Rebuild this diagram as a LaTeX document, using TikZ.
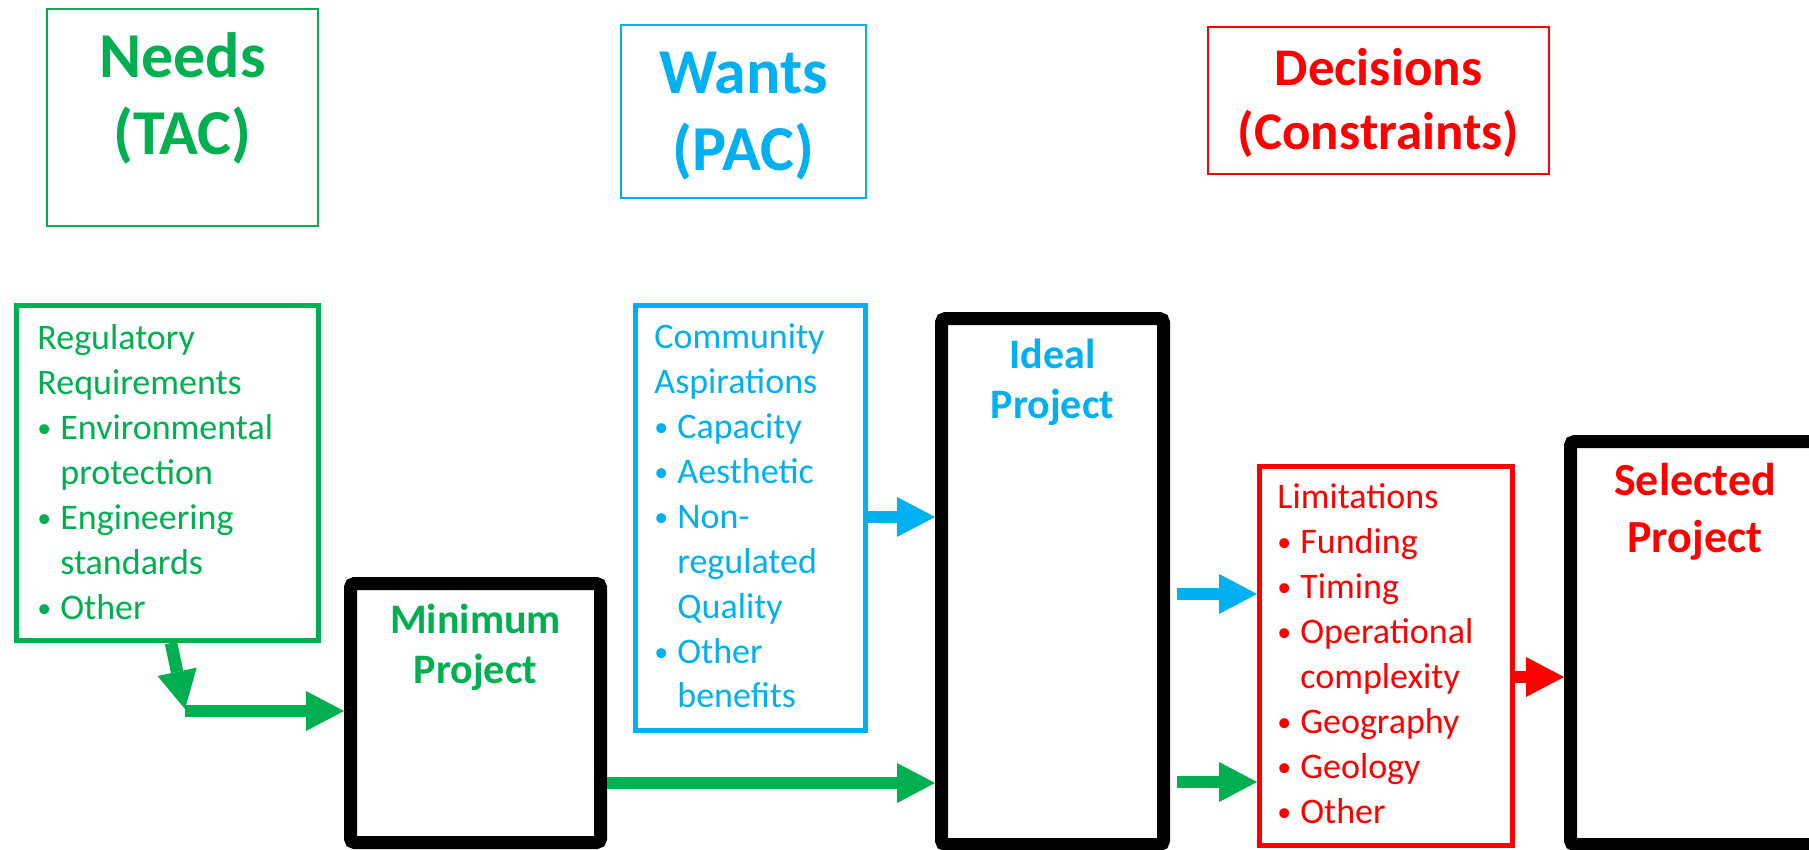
\documentclass[tikz,border=0pt]{standalone}
\usepackage{fontspec}
\setmainfont{Carlito}
\usetikzlibrary{arrows.meta}
\definecolor{cgreen}{HTML}{00B050}
\definecolor{cblue}{HTML}{00B0F0}
\definecolor{cred}{HTML}{FF0000}
\newcommand\bul{\makebox[11.5pt][l]{\raisebox{0.6pt}{\fontsize{14}{14}\selectfont •}}}
\newcommand\cont{\hspace*{11.5pt}}
\tikzset{
  thinbox/.style={draw=#1, line width=1.1pt, inner sep=0pt},
  thickbox/.style={draw=#1, line width=2.5pt, inner sep=0pt},
  projbox/.style={draw=black, line width=6.5pt, rounded corners=2pt, inner sep=0pt},
  bigtitle/.style={anchor=base, inner sep=0pt, text=#1, font=\bfseries\fontsize{32}{38.5}\selectfont},
  midtitle/.style={anchor=base, inner sep=0pt, text=#1, font=\bfseries\fontsize{26.5}{32}\selectfont},
  projtitle/.style={anchor=base, inner sep=0pt, text=#1, font=\bfseries\fontsize{21}{25}\selectfont},
  seltitle/.style={anchor=base, inner sep=0pt, text=#1, font=\bfseries\fontsize{23}{28.5}\selectfont},
  listtext/.style={anchor=base west, inner sep=0pt, text=#1, font=\fontsize{18}{22.5}\selectfont},
  fat/.style={draw=#1, line width=6.25pt, -{Triangle[length=19pt,width=20pt,line width=0pt]}}
}
\begin{document}
\begin{tikzpicture}[x=0.5pt,y=-0.5pt]
\useasboundingbox (0,0) rectangle (1809,850);
\clip (0,0) rectangle (1809,850);
\fill[white] (0,0) rectangle (1809,850);

% header boxes
\node[thinbox=cgreen, minimum width=135.25pt, minimum height=108.25pt] (needs) at (182.5,117.5) {};
\node[bigtitle=cgreen] (needstext) at (182.5,78) {\begin{tabular}[t]{@{}c@{}}Needs\\(TAC)\end{tabular}};

\node[thinbox=cblue, minimum width=122.25pt, minimum height=86.25pt] (wants) at (743.5,111.5) {};
\node[bigtitle=cblue] (wantstext) at (743.5,94) {\begin{tabular}[t]{@{}c@{}}Wants\\(PAC)\end{tabular}};

\node[thinbox=cred, minimum width=170.25pt, minimum height=73.25pt] (decis) at (1378.5,100.5) {};
\node[midtitle=cred] (decistext) at (1378.5,86) {\begin{tabular}[t]{@{}c@{}}Decisions\\(Constraints)\end{tabular}};

% list boxes
\node[thickbox=cgreen, minimum width=151pt, minimum height=167.5pt] (reg) at (167.5,473) {};
\node[listtext=cgreen] (regtext) at (37,349) {\begin{tabular}[t]{@{}l@{}}Regulatory\\Requirements\\\bul Environmental\\\cont protection\\\bul Engineering\\\cont standards\\\bul Other\end{tabular}};

\node[thickbox=cblue, minimum width=115pt, minimum height=212.5pt] (comm) at (750.5,518) {};
\node[listtext=cblue] (commtext) at (654,348) {\begin{tabular}[t]{@{}l@{}}Community\\Aspirations\\\bul Capacity\\\bul Aesthetic\\\bul Non-\\\cont regulated\\\cont Quality\\\bul Other\\\cont benefits\end{tabular}};

\node[thickbox=cred, minimum width=126.5pt, minimum height=189.5pt] (lim) at (1386,656) {};
\node[listtext=cred] (limtext) at (1277,508) {\begin{tabular}[t]{@{}l@{}}Limitations\\\bul Funding\\\bul Timing\\\bul Operational\\\cont complexity\\\bul Geography\\\bul Geology\\\bul Other\end{tabular}};

% project boxes
\node[projbox, minimum width=125pt, minimum height=129.5pt] (mini) at (475.5,713) {};
\node[projtitle=cgreen] (minitext) at (475.5,633) {\begin{tabular}[t]{@{}c@{}}Minimum\\Project\end{tabular}};

\node[projbox, minimum width=111pt, minimum height=263pt] (ideal) at (1052.5,581.5) {};
\node[projtitle=cblue] (idealtext) at (1052.5,368) {\begin{tabular}[t]{@{}c@{}}Ideal\\Project\end{tabular}};

\node[projbox, minimum width=124.5pt, minimum height=201.5pt] (sel) at (1695,643) {};
\node[seltitle=cred] (seltext) at (1695,495) {\begin{tabular}[t]{@{}c@{}}Selected\\Project\end{tabular}};

% connectors
\coordinate (bend) at (185,711);
\coordinate (bstart) at (1177,594);
\coordinate (gstart) at (1177,782);
\draw[fat=cgreen] (reg.south -| 171,0) -- (185,709);
\draw[fat=cgreen] (bend) -- (mini.west |- bend);
\draw[fat=cgreen] (mini.east |- 0,783) -- (ideal.west |- 0,783);
\draw[fat=cblue] (comm.east |- 0,517) -- (ideal.west |- 0,517);
\draw[fat=cblue] (bstart) -- (lim.west |- bstart);
\draw[fat=cgreen] (gstart) -- (lim.west |- gstart);
\draw[fat=cred] (lim.east |- 0,677) -- (sel.west |- 0,677);
\end{tikzpicture}
\end{document}
